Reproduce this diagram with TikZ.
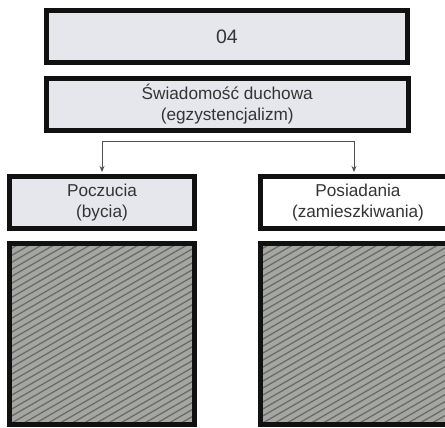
\documentclass[tikz,border=0pt]{standalone}
\usepackage{fontspec}
\setmainfont{Liberation Sans}
\usepackage{xcolor}
\definecolor{boxgray}{RGB}{229,231,236}
\definecolor{boxline}{RGB}{17,17,17}
\definecolor{textgray}{RGB}{52,52,52}
\definecolor{hatchgray}{RGB}{164,166,162}
\definecolor{hatchline}{RGB}{105,107,104}
\definecolor{linkgray}{RGB}{80,80,80}
\usepackage{tikz}
\usetikzlibrary{arrows.meta, calc}

\begin{document}
\begin{tikzpicture}[x=1pt, y=1pt,
  box/.style={draw=boxline, line width=5pt, fill=boxgray, text=textgray,
    font=\fontsize{17.2}{21}\selectfont, align=center, inner sep=0pt},
  hatchbox/.style={draw=boxline, line width=5pt, fill=hatchgray, inner sep=0pt,
    path picture={
      \foreach \k in {0,...,45}
        \draw[hatchline, line width=1.3pt]
          ($(path picture bounding box.south west)+(-340+\k*12.1,0)$) -- ++(30:620);
    }},
  link/.style={draw=linkgray, line width=0.9pt, line cap=rect},
  arrow/.style={link, -{Stealth[length=6pt, width=5pt]}, shorten >=2pt}]
  \useasboundingbox (0,0) rectangle (445,428);

  % --- Header boxes ---
  \node[box, font=\fontsize{19.5}{21}\selectfont, minimum width=361pt, minimum height=52pt] (num) at (227,391.5) {04};
  \node[box, minimum width=361.5pt, minimum height=52pt] (swiadomosc) at (227.25,323.5)
       {Świadomość duchowa\\(egzystencjalizm)};

  % --- Two branches ---
  \node[box, minimum width=185pt, minimum height=52.5pt] (poczucia) at (102,225.25)
       {Poczucia\\(bycia)};
  \node[box, fill=white, minimum width=195pt, minimum height=52.5pt] (posiadania) at (358,225.25)
       {Posiadania\\(zamieszkiwania)};

  % Hatched panels
  \node[hatchbox, minimum width=185pt, minimum height=181pt] (hatchL) at (102,93.5) {};
  \node[hatchbox, minimum width=195pt, minimum height=181pt] (hatchR) at (358,93.5) {};

  % Fork arrows
  \coordinate (forkL) at (102,287);
  \coordinate (forkR) at (354,287);
  \draw[arrow] (forkR) -- (forkL) -- (poczucia.north);
  \draw[arrow] (forkR) -- (forkR |- posiadania.north);
\end{tikzpicture}
\end{document}
